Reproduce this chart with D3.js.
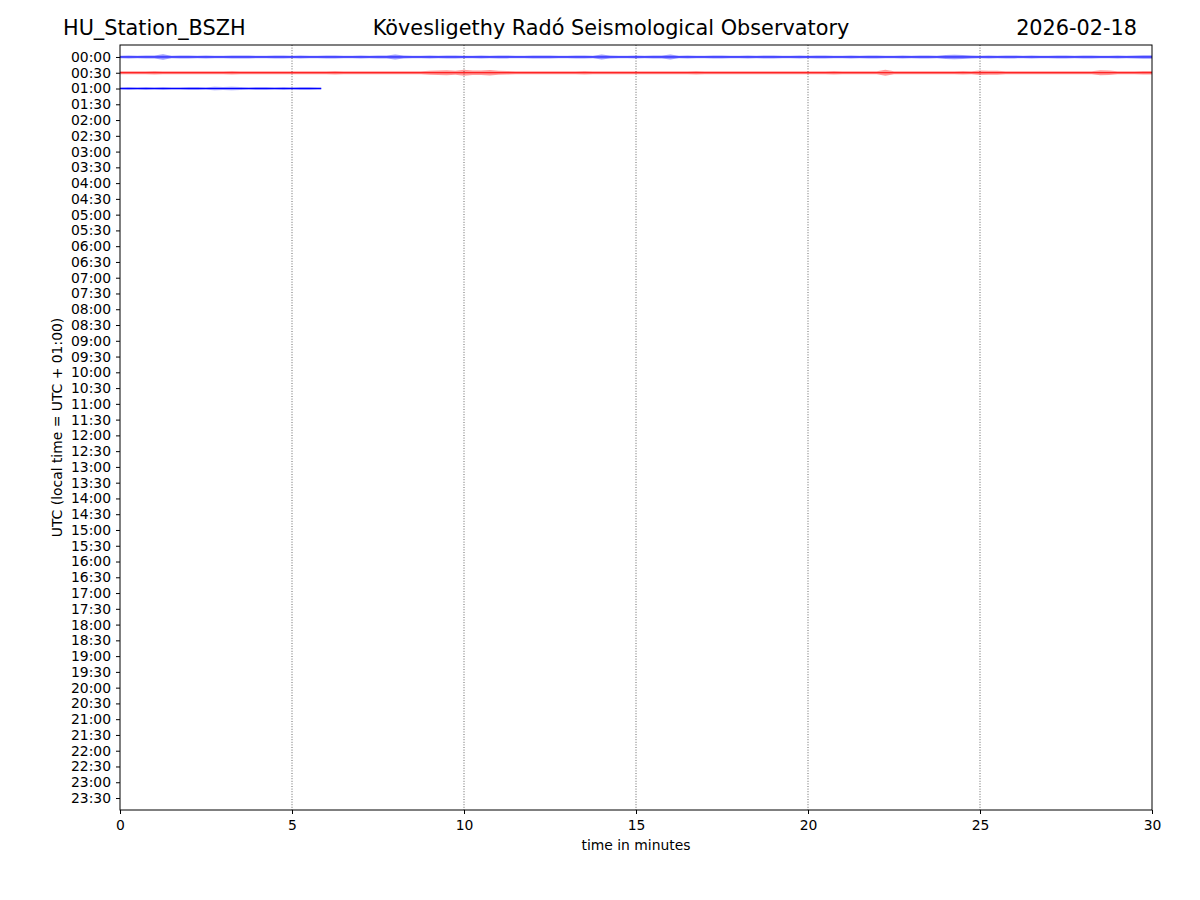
<!DOCTYPE html>
<html><head><meta charset="utf-8">
<script src="https://cdn.jsdelivr.net/npm/d3@7"></script>
<style>body{margin:0;background:#fff}svg{display:block}text{font-family:"DejaVu Sans",sans-serif}</style>
</head><body>
<script>
// ---- data ----
const stationTitle = "HU_Station_BSZH";
const centerTitle = "Kövesligethy Radó Seismological Observatory";
const dateTitle = "2026-02-18";
const xTicks = [0, 5, 10, 15, 20, 25, 30];
const yTickLabels = d3.range(48).map(i => String(Math.floor(i/2)).padStart(2,"0") + (i%2 ? ":30" : ":00"));
const sampleStep = 0.25; // minutes between envelope samples
// envelope amplitude (normalized units) per 0.25 min
const row0 = [1.3,1.4,1.2,1.5,1.4,2.8,1.3,1.4,1.5,1.3,
 1.4,1.2,1.3,1.5,1.6,1.4,1.3,1.2,1.4,1.5,
 1.3,1.4,1.2,1.3,1.4,1.5,1.3,1.2,1.4,1.3,
 1.4,1.5,2.6,1.4,1.3,1.2,1.4,1.3,1.5,1.4,
 1.3,1.2,1.4,1.3,1.5,1.4,1.3,1.2,1.4,1.6,
 1.4,1.3,1.2,1.4,1.5,1.3,2.4,1.4,1.3,1.2,
 1.4,1.3,1.5,1.4,2.5,1.3,1.4,1.2,1.3,1.5,
 1.4,1.3,1.2,1.4,1.3,1.5,1.4,1.3,1.2,1.4,
 1.3,1.5,1.4,1.3,1.2,1.4,1.3,1.5,1.4,1.3,
 1.2,1.4,1.3,1.5,1.4,1.3,2.0,2.2,1.9,1.4,
 1.3,1.4,1.2,1.5,1.4,1.3,1.4,1.2,1.3,1.5,
 1.4,1.3,1.5,1.4,1.3,1.2,1.4,1.3,1.5,1.8];
const row1 = [1.5,1.6,1.4,1.5,1.7,1.5,1.4,1.6,1.5,1.4,
 1.6,1.5,1.4,1.7,1.5,1.6,1.4,1.5,1.6,1.5,
 1.4,1.5,1.6,1.4,1.5,1.7,1.5,1.4,1.6,1.5,
 1.5,1.4,1.6,1.5,1.4,1.6,2.0,2.2,2.4,2.1,
 3.0,2.3,2.2,2.8,2.0,1.7,1.6,1.5,1.6,1.4,
 1.5,1.6,1.4,1.5,1.7,1.5,1.4,1.6,1.5,1.4,
 1.6,1.5,1.4,1.5,1.6,1.4,1.5,1.7,1.5,1.4,
 1.6,1.5,1.4,1.6,1.5,1.4,1.5,1.6,1.4,1.5,
 1.6,1.5,1.4,1.7,1.5,1.6,1.4,1.5,1.6,3.0,
 1.6,1.5,1.4,1.6,1.5,1.4,1.6,1.5,1.7,1.5,
 2.2,2.0,2.1,1.6,1.5,1.4,1.6,1.5,1.4,1.5,
 1.6,1.5,1.4,1.6,2.4,2.2,1.5,1.4,1.6,1.7];
const row2 = [1.3,1.4,1.2,1.5,1.3,1.4,1.2,1.3,1.5,1.4,
 1.3,1.7,1.6,1.7,1.4,1.3,1.5,1.4,1.3,1.4,
 1.2,1.5,1.4,1.3];
const row2End = 5.85;
const traces = [
  {row: 0, env: row0, end: 30, color: "#0000ff"},
  {row: 1, env: row1, end: 30, color: "#ff0000"},
  {row: 2, env: row2, end: row2End, color: "#0000ff"}
];

// ---- layout ----
const W = 1200, H = 900;
const L = 120, R = 1152, T = 45, B = 810;
const FS = 13.9;
const svg = d3.select("body").append("svg").attr("width", W).attr("height", H);
const x = d3.scaleLinear().domain([0, 30]).range([L, R]);
const y = d3.scaleLinear().domain([-0.76, 47.76]).range([T, B]);
const amp = d3.scaleLinear().domain([0, 1]).range([0, 1]); // amplitude units -> px offset

// grid
svg.append("g").selectAll("line").data(xTicks.filter(d => d > 0 && d < 30)).join("line")
  .attr("x1", d => x(d)).attr("x2", d => x(d)).attr("y1", T).attr("y2", B)
  .attr("stroke", "#000").attr("stroke-width", 0.6).attr("stroke-dasharray", "1,1.6");

// traces
traces.forEach(tr => {
  const pts = tr.env.map((a, i) => ({t: Math.min(i * sampleStep, tr.end), a}));
  pts.push({t: tr.end, a: tr.env[tr.env.length - 1]});
  const yc = y(tr.row);
  const area = d3.area().curve(d3.curveLinear)
    .x(d => x(d.t)).y0(d => yc - amp(d.a)).y1(d => yc + amp(d.a));
  svg.append("path").attr("d", area(pts)).attr("fill", tr.color).attr("opacity", 0.4);
  svg.append("line").attr("x1", x(0)).attr("x2", x(tr.end)).attr("y1", yc).attr("y2", yc)
    .attr("stroke", tr.color).attr("stroke-width", 1);
});

// frame
svg.append("rect").attr("x", L).attr("y", T).attr("width", R - L).attr("height", B - T)
  .attr("fill", "none").attr("stroke", "#000").attr("stroke-width", 1);

// axes
const xAxis = d3.axisBottom(x).tickValues(xTicks).tickSize(4).tickPadding(6).tickFormat(d3.format("d"));
const gx = svg.append("g").attr("transform", `translate(0,${B})`).call(xAxis);
gx.select(".domain").remove();
gx.selectAll("text").attr("font-size", FS).attr("font-family", "DejaVu Sans").attr("fill", "#000");

const yAxis = d3.axisLeft(y).tickValues(d3.range(48)).tickSize(4).tickPadding(5).tickFormat(i => yTickLabels[i]);
const gy = svg.append("g").attr("transform", `translate(${L},0)`).call(yAxis);
gy.select(".domain").remove();
gy.selectAll("text").attr("font-size", FS).attr("font-family", "DejaVu Sans").attr("fill", "#000");

// labels
svg.append("text").attr("x", (L + R) / 2).attr("y", 850).attr("text-anchor", "middle")
  .attr("font-size", FS).text("time in minutes");
svg.append("text").attr("transform", `translate(62,${(T + B) / 2}) rotate(-90)`).attr("text-anchor", "middle")
  .attr("font-size", FS).text("UTC (local time = UTC + 01:00)");

// titles
svg.append("text").attr("x", 63).attr("y", 35).attr("font-size", 20.8).text(stationTitle);
svg.append("text").attr("x", 611).attr("y", 35).attr("text-anchor", "middle").attr("font-size", 20.8).text(centerTitle);
svg.append("text").attr("x", 1137).attr("y", 35).attr("text-anchor", "end").attr("font-size", 20.8).text(dateTitle);
</script>
</body></html>
